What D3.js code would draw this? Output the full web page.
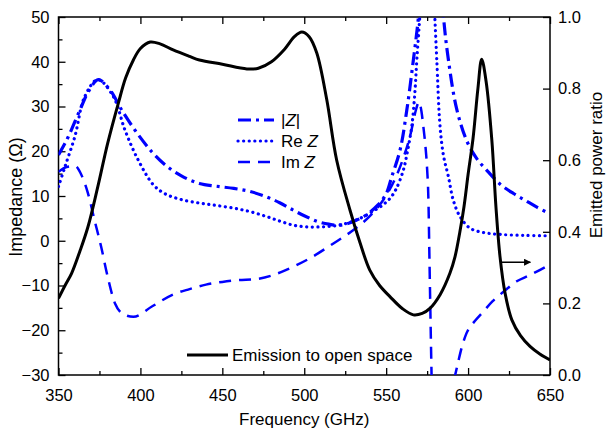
<!DOCTYPE html>
<html>
<head>
<meta charset="utf-8">
<script src="https://cdn.jsdelivr.net/npm/d3@7"></script>
<style>
  body { margin: 0; background: #fff; }
  svg { display: block; font-family: "Liberation Sans", Arial, sans-serif; }
</style>
</head>
<body>
<svg id="chart" width="607" height="432"></svg>
<script>
// emission to open space (right axis)
const emFreq = [350, 354, 358, 363, 368, 374, 380, 386.5, 391, 395.7, 400, 406, 412, 420, 430, 436, 450, 465, 472, 480, 488, 494, 498.5, 503, 507.6, 513.7, 519.8, 527.9, 534, 540, 546, 552.3, 560, 566.6, 572, 576.7, 583, 588.9, 592, 595, 597.5, 600, 603, 606, 608.3, 611, 614.5, 617, 619.5, 622.6, 626.7, 632, 637.8, 644, 650];
const emission = [0.214, 0.25, 0.284, 0.345, 0.414, 0.526, 0.647, 0.759, 0.83, 0.88, 0.912, 0.93, 0.925, 0.908, 0.89, 0.88, 0.868, 0.855, 0.857, 0.875, 0.91, 0.945, 0.958, 0.945, 0.9, 0.77, 0.6, 0.461, 0.37, 0.293, 0.25, 0.219, 0.185, 0.168, 0.172, 0.186, 0.225, 0.284, 0.33, 0.4, 0.47, 0.56, 0.66, 0.8, 0.882, 0.82, 0.656, 0.47, 0.33, 0.228, 0.154, 0.11, 0.08, 0.058, 0.042];

// |Z|
const absFreq = [350, 355, 360, 364, 368.2, 374.3, 381.4, 388.6, 396.7, 406.9, 415, 425, 436, 446, 457, 467, 477, 485, 493, 500, 508, 515, 522, 530, 538, 545, 550, 553.4, 558.5, 562.6, 566.6, 569.7, 572, 583, 585, 588, 593, 599, 605, 612, 620, 628, 635, 642, 650];
const absZ = [19.2, 22.5, 26.6, 30, 33.3, 36, 33.7, 29.2, 24.7, 19.9, 17, 14.5, 12.8, 12.2, 11.7, 11, 9.8, 8.5, 6.9, 5.6, 4.3, 3.7, 3.5, 4.3, 5.8, 8, 10.5, 14.3, 20.3, 29.2, 40.4, 50, 62, 62, 50, 40.4, 29.5, 22.5, 18.5, 15.5, 12.5, 10.5, 9, 7.5, 6];

// Re Z
const reFreq = [350, 354, 360, 366, 374, 383.5, 390.6, 398.7, 407.9, 415, 425, 436.5, 446, 456.7, 467, 477, 485, 493, 501, 510, 518, 526, 534, 542, 548, 552.4, 556, 560.5, 563, 565.6, 567.5, 568.7, 570.5, 572, 578.5, 579.7, 580.9, 582.9, 585, 588, 591, 595.1, 601.2, 610, 620, 635, 650];
const reZ = [12.1, 16.6, 23.3, 32.2, 36, 32.2, 24.7, 18, 12.5, 10.5, 9.2, 8.4, 7.9, 7.3, 6.5, 5.4, 4.4, 3.5, 3.1, 3.1, 3.3, 3.9, 5, 6.6, 8, 9.5, 11.5, 15.8, 20, 25.5, 33, 40.4, 50, 60, 60, 50, 40.4, 25.5, 19, 14.3, 9, 5.4, 2.8, 1.8, 1.4, 1.2, 1.1];

// Im Z (null marks the break at the resonance)
const imFreq = [350, 355, 360, 364, 368, 372, 376, 380, 384.5, 390.6, 395.7, 407, 420, 430, 440, 450, 460, 470, 480, 489, 503.5, 517.8, 530, 540, 548, 555, 560, 565, 568, 570, 571.5, 572.7, 574, 575, 575.8, 576.4, 577, 577.6, 578.2, 585, 591.5, 594, 596, 599, 604, 608.4, 615, 621.6, 630, 637, 644, 650];
const imZ = [15.4, 16.5, 16.7, 14.7, 10.6, 4.6, -1.3, -8, -14, -16.6, -17, -14.7, -12, -10.8, -9.8, -9.2, -8.8, -8.6, -7.8, -6.5, -3.9, -0.6, 2.4, 5.5, 9, 13.5, 18, 24, 29, 31, 29, 25.5, 21, 16, 9, -3.6, -16, -28, -38, null, -31, -27, -24, -20.7, -18, -16.2, -13.5, -11.4, -9, -7.8, -6.5, -5.3];

const xTicks = [350, 400, 450, 500, 550, 600, 650];
const yTicks = [-30, -20, -10, 0, 10, 20, 30, 40, 50];
const rTicks = [0, 0.2, 0.4, 0.6, 0.8, 1.0];

const svg = d3.select('#chart');
const mLeft = 58.5, mRight = 550, mTop = 17, mBottom = 375;

const x = d3.scaleLinear().domain([350, 650]).range([mLeft, mRight]);
const yL = d3.scaleLinear().domain([-30, 50]).range([mBottom, mTop]);
const yR = d3.scaleLinear().domain([0, 1]).range([mBottom, mTop]);

const defs = svg.append('defs');
defs.append('clipPath').attr('id', 'plot')
  .append('rect').attr('x', mLeft).attr('y', mTop)
  .attr('width', mRight - mLeft).attr('height', mBottom - mTop);
defs.append('marker').attr('id', 'arrow')
  .attr('viewBox', '0 0 10 10').attr('refX', 9).attr('refY', 5)
  .attr('markerWidth', 9).attr('markerHeight', 7).attr('orient', 'auto')
  .attr('markerUnits', 'userSpaceOnUse')
  .append('path').attr('d', 'M0,0L10,5L0,10Z').attr('fill', '#000');

function styleAxis(g) {
  g.select('.domain').remove();
  g.selectAll('line').attr('stroke', '#000').attr('stroke-width', 1.3);
  g.selectAll('text').attr('font-size', 16.5).attr('fill', '#000');
}

const minorX = d3.range(375, 650, 50);
const minorY = d3.range(-25, 50, 10);

// bottom
svg.append('g').attr('transform', `translate(0,${mBottom})`)
  .call(d3.axisBottom(x).tickValues(xTicks).tickSize(-7).tickPadding(14).tickFormat(d3.format('d')))
  .call(styleAxis);
svg.append('g').attr('transform', `translate(0,${mBottom})`)
  .call(d3.axisBottom(x).tickValues(minorX).tickSize(-4).tickFormat(''))
  .call(styleAxis);
// top
svg.append('g').attr('transform', `translate(0,${mTop})`)
  .call(d3.axisTop(x).tickValues(xTicks).tickSize(-7).tickFormat(''))
  .call(styleAxis);
svg.append('g').attr('transform', `translate(0,${mTop})`)
  .call(d3.axisTop(x).tickValues(minorX).tickSize(-4).tickFormat(''))
  .call(styleAxis);
// left
svg.append('g').attr('transform', `translate(${mLeft},0)`)
  .call(d3.axisLeft(yL).tickValues(yTicks).tickSize(-7).tickPadding(9).tickFormat(d3.format('d')))
  .call(styleAxis);
svg.append('g').attr('transform', `translate(${mLeft},0)`)
  .call(d3.axisLeft(yL).tickValues(minorY).tickSize(-4).tickFormat(''))
  .call(styleAxis);
// right
svg.append('g').attr('transform', `translate(${mRight},0)`)
  .call(d3.axisRight(yR).tickValues(rTicks).tickSize(-7).tickPadding(8).tickFormat(d3.format('.1f')))
  .call(styleAxis);

svg.append('rect').attr('x', mLeft).attr('y', mTop)
  .attr('width', mRight - mLeft).attr('height', mBottom - mTop)
  .attr('fill', 'none').attr('stroke', '#000').attr('stroke-width', 1.5);

// titles
svg.append('text').attr('x', (mLeft + mRight) / 2).attr('y', 425)
  .attr('text-anchor', 'middle').attr('font-size', 17).text('Frequency (GHz)');
svg.append('text').attr('transform', 'translate(22,197) rotate(-90)')
  .attr('text-anchor', 'middle').attr('font-size', 18).text('Impedance (\u03A9)');
svg.append('text').attr('transform', 'translate(602,165) rotate(-90)')
  .attr('text-anchor', 'middle').attr('font-size', 17).text('Emitted power ratio');

const plot = svg.append('g').attr('clip-path', 'url(#plot)');

const lineL = (xs, ys, curve) => d3.line()
  .defined(i => ys[i] !== null)
  .x(i => x(xs[i])).y(i => yL(ys[i]))
  .curve(curve)(d3.range(xs.length));

const blue = '#0000ff';
const styles = {
  abs: { dash: '13,5,3,5', w: 3.2, cap: 'butt' },
  re: { dash: '0.1,5.5', w: 3.2, cap: 'round' },
  im: { dash: '12,8', w: 2.5, cap: 'butt' }
};

plot.append('path').attr('d', lineL(imFreq, imZ, d3.curveMonotoneX))
  .attr('fill', 'none').attr('stroke', blue).attr('stroke-width', styles.im.w)
  .attr('stroke-dasharray', styles.im.dash);
plot.append('path').attr('d', lineL(reFreq, reZ, d3.curveCatmullRom.alpha(0.5)))
  .attr('fill', 'none').attr('stroke', blue).attr('stroke-width', styles.re.w)
  .attr('stroke-linecap', 'round').attr('stroke-dasharray', styles.re.dash);
plot.append('path').attr('d', lineL(absFreq, absZ, d3.curveCatmullRom.alpha(0.5)))
  .attr('fill', 'none').attr('stroke', blue).attr('stroke-width', styles.abs.w)
  .attr('stroke-dasharray', styles.abs.dash);

const emLine = d3.line()
  .x(i => x(emFreq[i])).y(i => yR(emission[i]))
  .curve(d3.curveCatmullRom.alpha(0.5));
plot.append('path').attr('d', emLine(d3.range(emFreq.length)))
  .attr('fill', 'none').attr('stroke', '#000').attr('stroke-width', 3);

// arrow pointing to right axis
svg.append('line')
  .attr('x1', x(620)).attr('x2', x(638)).attr('y1', yL(-4.8)).attr('y2', yL(-4.8))
  .attr('stroke', '#000').attr('stroke-width', 1.5).attr('marker-end', 'url(#arrow)');

// legend for impedance
const leg = [
  { key: 'abs', pre: '|', it: 'Z', post: '|' },
  { key: 're', pre: 'Re ', it: 'Z', post: '' },
  { key: 'im', pre: 'Im ', it: 'Z', post: '' }
];
leg.forEach((d, i) => {
  const yy = 120 + i * 21;
  const s = styles[d.key];
  svg.append('line').attr('x1', 238).attr('x2', 274).attr('y1', yy).attr('y2', yy)
    .attr('stroke', blue).attr('stroke-width', s.w)
    .attr('stroke-linecap', s.cap).attr('stroke-dasharray', s.dash);
  const t = svg.append('text').attr('x', 281).attr('y', yy + 6).attr('font-size', 17);
  t.append('tspan').text(d.pre);
  t.append('tspan').attr('font-style', 'italic').text(d.it);
  if (d.post) t.append('tspan').text(d.post);
});

svg.append('line').attr('x1', 187).attr('x2', 228).attr('y1', 355).attr('y2', 355)
  .attr('stroke', '#000').attr('stroke-width', 3);
svg.append('text').attr('x', 232).attr('y', 361).attr('font-size', 17)
  .text('Emission to open space');
</script>
</body>
</html>
